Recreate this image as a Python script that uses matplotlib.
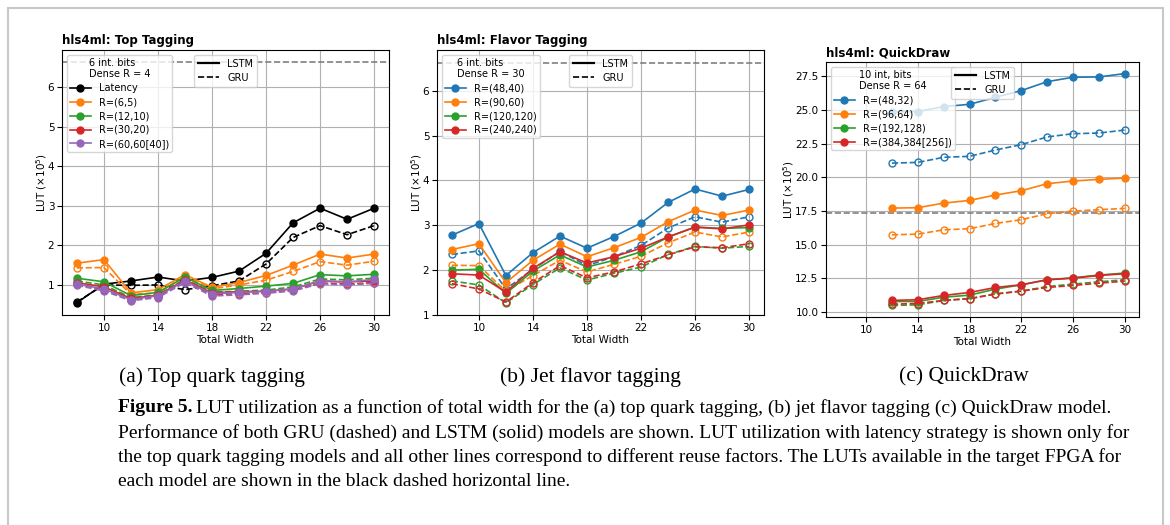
import numpy as np
import matplotlib
matplotlib.use('Agg')
import matplotlib.pyplot as plt
from matplotlib.lines import Line2D
from matplotlib.patches import Rectangle

# ---- data (LUT in units of 1e5) ----
widths = [8, 10, 12, 14, 16, 18, 20, 22, 24, 26, 28, 30]
widths_qd = [12, 14, 16, 18, 20, 22, 24, 26, 28, 30]

# (a) top tagging
top_labels = ['Latency', 'R=(6,5)', 'R=(12,10)', 'R=(30,20)', 'R=(60,60[40])']
top_colors = ['black', 'C1', 'C2', 'C3', 'C4']
top_lstm = [
    [0.55, 1.02, 1.10, 1.20, 1.10, 1.19, 1.35, 1.80, 2.57, 2.94, 2.66, 2.94],
    [1.55, 1.64, 0.80, 0.88, 1.26, 0.94, 1.06, 1.24, 1.50, 1.78, 1.68, 1.78],
    [1.17, 1.08, 0.73, 0.81, 1.20, 0.86, 0.91, 0.97, 1.04, 1.26, 1.23, 1.27],
    [1.06, 0.95, 0.66, 0.74, 1.13, 0.80, 0.83, 0.84, 0.90, 1.10, 1.08, 1.10],
    [1.02, 0.90, 0.63, 0.73, 1.10, 0.78, 0.81, 0.84, 0.90, 1.10, 1.07, 1.14],
]
top_gru = [
    [0.57, 1.00, 0.99, 1.00, 0.88, 0.98, 1.10, 1.53, 2.20, 2.50, 2.27, 2.50],
    [1.43, 1.44, 0.76, 0.80, 1.22, 0.90, 1.00, 1.12, 1.34, 1.59, 1.50, 1.60],
    [1.10, 1.00, 0.68, 0.75, 1.15, 0.82, 0.84, 0.87, 0.95, 1.15, 1.13, 1.17],
    [1.02, 0.88, 0.63, 0.70, 1.10, 0.75, 0.78, 0.80, 0.86, 1.05, 1.02, 1.06],
    [0.99, 0.85, 0.60, 0.68, 1.06, 0.72, 0.75, 0.79, 0.85, 1.03, 1.00, 1.04],
]
top_fpga = 6.63

# (b) flavor tagging
flav_labels = ['R=(48,40)', 'R=(90,60)', 'R=(120,120)', 'R=(240,240)']
flav_colors = ['C0', 'C1', 'C2', 'C3']
flav_lstm = [
    [2.78, 3.04, 1.88, 2.39, 2.76, 2.49, 2.75, 3.05, 3.51, 3.81, 3.65, 3.80],
    [2.46, 2.59, 1.72, 2.22, 2.58, 2.30, 2.50, 2.73, 3.08, 3.34, 3.22, 3.34],
    [2.00, 2.02, 1.48, 1.98, 2.34, 2.07, 2.22, 2.41, 2.74, 2.96, 2.93, 2.95],
    [1.92, 1.89, 1.51, 2.04, 2.41, 2.16, 2.30, 2.49, 2.74, 2.96, 2.92, 3.01],
]
flav_gru = [
    [2.35, 2.43, 1.58, 2.02, 2.42, 2.10, 2.30, 2.55, 2.94, 3.19, 3.07, 3.19],
    [2.11, 2.10, 1.53, 1.88, 2.22, 1.96, 2.13, 2.31, 2.61, 2.85, 2.74, 2.85],
    [1.76, 1.67, 1.27, 1.68, 2.05, 1.78, 1.93, 2.07, 2.35, 2.53, 2.49, 2.53],
    [1.70, 1.58, 1.29, 1.72, 2.10, 1.83, 1.96, 2.14, 2.34, 2.52, 2.50, 2.59],
]
flav_fpga = 6.63

# (c) QuickDraw
qd_labels = ['R=(48,32)', 'R=(96,64)', 'R=(192,128)', 'R=(384,384[256])']
qd_colors = ['C0', 'C1', 'C2', 'C3']
qd_lstm = [
    [24.85, 24.88, 25.25, 25.42, 25.94, 26.44, 27.10, 27.43, 27.45, 27.70],
    [17.72, 17.75, 18.09, 18.29, 18.69, 19.01, 19.53, 19.73, 19.85, 19.95],
    [10.79, 10.79, 11.11, 11.26, 11.71, 12.03, 12.40, 12.55, 12.75, 12.90],
    [10.87, 10.92, 11.24, 11.46, 11.83, 12.03, 12.40, 12.52, 12.72, 12.85],
]
qd_gru = [
    [21.06, 21.11, 21.49, 21.56, 22.03, 22.43, 23.00, 23.24, 23.29, 23.51],
    [15.74, 15.79, 16.11, 16.19, 16.58, 16.86, 17.30, 17.50, 17.60, 17.70],
    [10.50, 10.54, 10.87, 11.00, 11.36, 11.56, 11.90, 12.08, 12.25, 12.40],
    [10.59, 10.64, 10.87, 11.00, 11.34, 11.56, 11.83, 11.98, 12.15, 12.30],
]
qd_fpga = 17.33

W, H = 1170, 525
fig = plt.figure(figsize=(W / 100, H / 100), dpi=100)
plt.rcParams['font.size'] = 7.5


def px_axes(left, right, top, bottom):
    return fig.add_axes([left / W, 1 - bottom / H, (right - left) / W, (bottom - top) / H])


def panel(ax, title, x, lstm, gru, labels, colors, fpga, legend_title):
    ax.axhline(fpga, color='gray', ls='--', lw=1.2)
    for ys_l, ys_g, lab, c in zip(lstm, gru, labels, colors):
        ax.plot(x, ys_l, '-o', color=c, lw=1.2, ms=5, label=lab)
        ax.plot(x, ys_g, '--o', color=c, lw=1.2, ms=5, mfc='none')
    ax.set_xlim(6.9, 31.1)
    ax.set_xticks([10, 14, 18, 22, 26, 30])
    ax.grid(True, color='#b0b0b0', lw=0.8)
    ax.set_axisbelow(True)
    ax.set_xlabel('Total Width', fontsize=7.5, labelpad=2)
    ax.set_ylabel('LUT ($\\times 10^5$)', fontsize=7.5, labelpad=-1)
    ax.set_title(title, loc='left', fontweight='bold', fontsize=8.5, pad=4)
    ax.tick_params(labelsize=7.5, length=3.5, pad=2)
    leg1 = ax.legend(loc='upper left', title=legend_title, fontsize=7,
                     title_fontsize=7, handlelength=2.2, labelspacing=0.4,
                     borderpad=0.3, handletextpad=0.8)
    ax.add_artist(leg1)
    handles = [Line2D([], [], color='black', lw=1.6, ls='-'),
               Line2D([], [], color='black', lw=1.2, ls='--')]
    ax.legend(handles, ['LSTM', 'GRU'], loc='upper center', fontsize=7,
              handlelength=2.2, labelspacing=0.4, borderpad=0.4)


ax_a = px_axes(62, 389, 50, 315)
panel(ax_a, 'hls4ml: Top Tagging', widths, top_lstm, top_gru, top_labels,
      top_colors, top_fpga, '6 int. bits\nDense R = 4')
ax_a.set_ylim(0.24, 6.94)

ax_b = px_axes(437, 764, 50, 315)
panel(ax_b, 'hls4ml: Flavor Tagging', widths, flav_lstm, flav_gru, flav_labels,
      flav_colors, flav_fpga, '6 int. bits\nDense R = 30')
ax_b.set_ylim(1.0, 6.91)

ax_c = px_axes(826, 1139, 62, 317)
panel(ax_c, 'hls4ml: QuickDraw', widths_qd, qd_lstm, qd_gru, qd_labels,
      qd_colors, qd_fpga, '10 int, bits\nDense R = 64')
ax_c.set_ylim(9.64, 28.56)
ax_c.yaxis.set_major_formatter(matplotlib.ticker.FormatStrFormatter('%.1f'))

# page frame
fig.patches.append(Rectangle((8 / W, -0.05), (1163 - 8) / W, 1.05 - 8 / H,
                             transform=fig.transFigure, fill=False,
                             edgecolor='#c8c8c8', lw=1.5))

serif = 'Liberation Serif'
for cx, txt in [(212, '(a) Top quark tagging'), (590, '(b) Jet flavor tagging'),
                (964, '(c) QuickDraw')]:
    fig.text(cx / W, 1 - 377 / H, txt, ha='center', va='center',
             family=serif, fontsize=15.5)

caption = [
    'LUT utilization as a function of total width for the (a) top quark tagging, (b) jet flavor tagging (c) QuickDraw model.',
    'Performance of both GRU (dashed) and LSTM (solid) models are shown. LUT utilization with latency strategy is shown only for',
    'the top quark tagging models and all other lines correspond to different reuse factors. The LUTs available in the target FPGA for',
    'each model are shown in the black dashed horizontal line.',
]
line_y = [408, 433, 457, 482]
renderer = fig.canvas.get_renderer()
bold = fig.text(118 / W, 1 - line_y[0] / H, 'Figure 5.', ha='left', va='center',
                family=serif, fontsize=14, fontweight='bold')
bb = bold.get_window_extent(renderer)
fig.text(bb.x1 / W + 4 / W, 1 - line_y[0] / H, caption[0], ha='left', va='center',
         family=serif, fontsize=14)
for txt, y in zip(caption[1:], line_y[1:]):
    fig.text(118 / W, 1 - y / H, txt, ha='left', va='center', family=serif, fontsize=14)

fig.savefig('out.png', dpi=100)
